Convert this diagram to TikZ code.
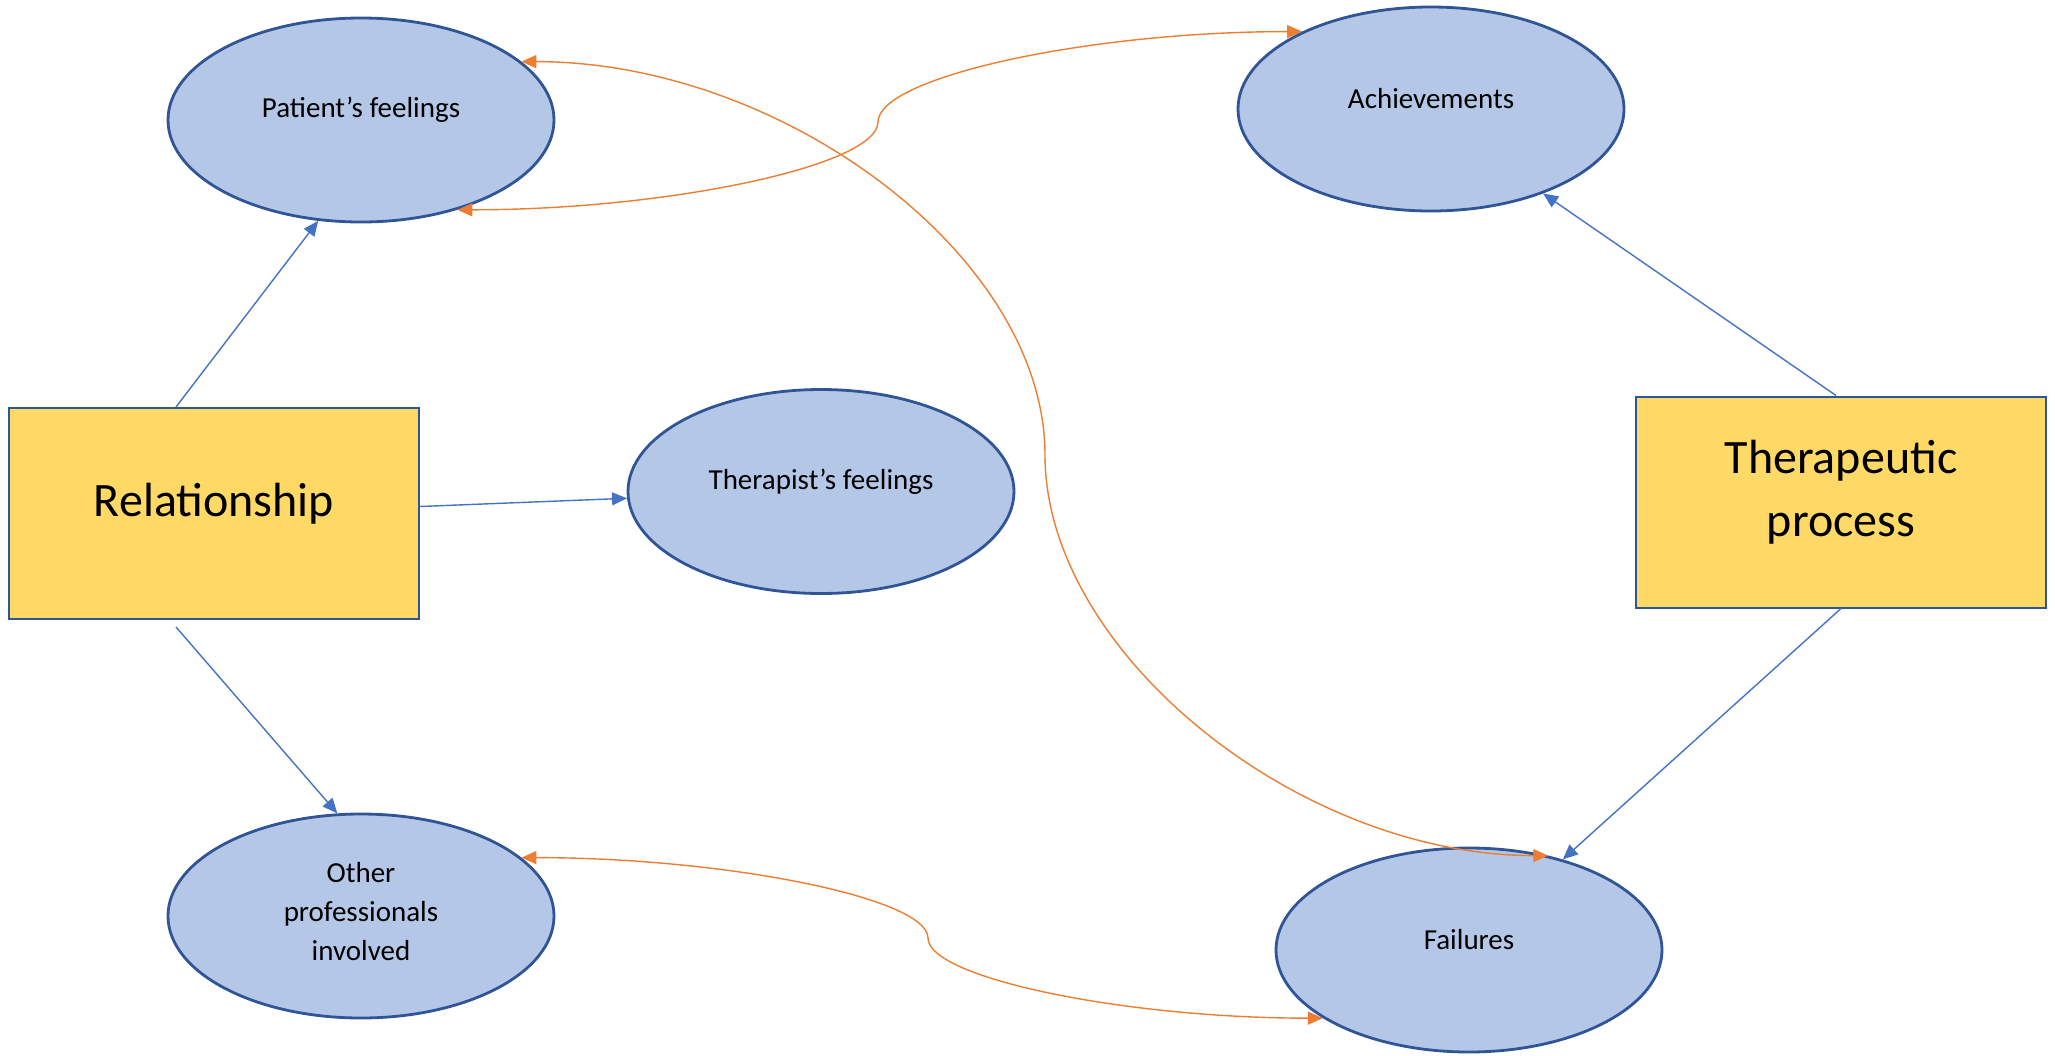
\documentclass[tikz,border=0pt]{standalone}
\usepackage{fontspec}
\setmainfont{Carlito}
\usetikzlibrary{shapes.geometric,arrows.meta}
\definecolor{bubblefill}{HTML}{B4C7E7}
\definecolor{bubbleline}{HTML}{2F5597}
\definecolor{boxfill}{HTML}{FFD966}
\definecolor{linkblue}{HTML}{4472C4}
\definecolor{linkorange}{HTML}{ED7D31}
\tikzset{
  bubble/.style={ellipse, draw=bubbleline, fill=bubblefill, line width=1.4pt,
    minimum width=193pt, minimum height=102pt, inner sep=0pt},
  bubbletext/.style={font=\fontsize{14.5}{19.5}\selectfont, align=center, yshift=5pt},
  themebox/.style={rectangle, draw=bubbleline, fill=boxfill, line width=1pt,
    minimum width=205pt, minimum height=105.5pt, inner sep=0pt},
  boxtext/.style={font=\fontsize{24}{31.5}\selectfont, align=center, yshift=5pt},
  bluelink/.style={draw=linkblue, line width=0.7pt, -{Triangle[length=7.5pt,width=6.5pt]}},
  orangelink/.style={draw=linkorange, line width=0.7pt,
    {Triangle[length=7.5pt,width=6.5pt]}-{Triangle[length=7.5pt,width=6.5pt]}},
}
\begin{document}
\begin{tikzpicture}[x=0.5pt,y=0.5pt]
  \useasboundingbox (0,0) rectangle (2055,-1055);
  % boxes
  \node[themebox, label={[boxtext]center:Relationship}] (rel) at (214,-513.5) {};
  \node[themebox, label={[boxtext]center:{Therapeutic\\process}}] (ther) at (1841,-502) {};
  % bubbles
  \node[bubble, label={[bubbletext]center:Patient’s feelings}] (patient) at (361,-120) {};
  \node[bubble, label={[bubbletext]center:Achievements}] (achieve) at (1431,-109) {};
  \node[bubble, label={[bubbletext]center:Therapist’s feelings}] (therapist) at (821,-491.5) {};
  \node[bubble, label={[bubbletext,yshift=-3pt]center:{Other\\professionals\\involved}}] (other) at (361,-916) {};
  \node[bubble, label={[bubbletext]center:Failures}] (failures) at (1469,-950) {};
  % blue links
  \draw[bluelink] ([xshift=-19pt]rel.north) -- (patient.-113);
  \draw[bluelink] ([yshift=3.5pt]rel.east) -- (therapist.182);
  \draw[bluelink] ([xshift=-19pt,yshift=-3.5pt]rel.south) -- (other.103);
  \draw[bluelink] ([xshift=-2.5pt]ther.north) -- (achieve.-37);
  \draw[bluelink] (ther.south) -- (failures.44);
  % orange links
  \coordinate (bendA) at (878,-122);
  \coordinate (bendB) at (1045,-455);
  \coordinate (bendC) at (928,-938);
  \draw[orangelink] (patient.-43) .. controls +(211,0) and +(0,-43.5) .. (bendA)
    .. controls +(0,45) and +(-213,0) .. (achieve.149);
  \draw[orangelink] (patient.20) .. controls +(262,0) and +(0,198) .. (bendB)
    .. controls +(0,-197) and +(-250,0) .. (failures.50);
  \draw[orangelink] (other.20) .. controls +(204,0) and +(0,40) .. (bendC)
    .. controls +(0,-40) and +(-198,0) .. (failures.205);
\end{tikzpicture}
\end{document}
